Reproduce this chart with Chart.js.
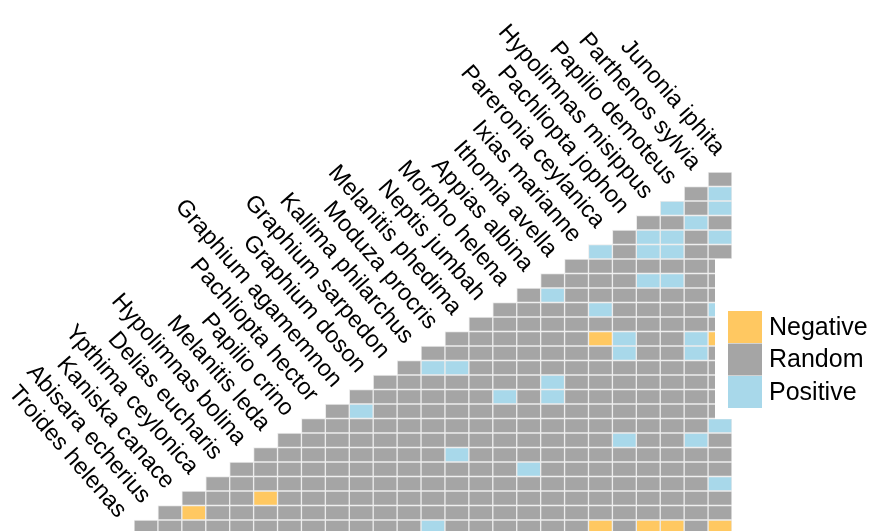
<!DOCTYPE html>
<html>
<head>
<meta charset="utf-8">
<script src="https://cdn.jsdelivr.net/npm/chart.js@4.4.1/dist/chart.umd.min.js"></script>
<style>
  html, body { margin: 0; padding: 0; background: #fff; overflow: hidden; }
</style>
</head>
<body>
<canvas id="coocChart" width="870" height="531"></canvas>
<script>
// species along the diagonal, bottom-left to top-right
const species = [
  'Troides helenas', 'Abisara echerius', 'Kaniska canace', 'Ypthima ceylonica',
  'Delias eucharis', 'Hypolimnas bolina', 'Melanitis leda', 'Papilio crino',
  'Pachliopta hector', 'Graphium agamemnon', 'Graphium doson', 'Graphium sarpedon',
  'Kallima philarchus', 'Moduza procris', 'Melanitis phedima', 'Neptis jumbah',
  'Morpho helena', 'Appias albina', 'Ithomia avella', 'Ixias marianne',
  'Pareronia ceylanica', 'Pachliopta jophon', 'Hypolimnas misippus', 'Papilio demoteus',
  'Parthenos sylvia', 'Junonia iphita'
];
// grid columns
const columns = species.slice(0, 25);

// one string per row, bottom row first; one letter per cell from the diagonal to the right
// N = negative, R = random, P = positive
const rowCodes = [
  'RRRRRRRRRRRRPRRRRRRNRNNRN',
  'RNRRRRRRRRRRRRRRRRRRRRRR',
  'RRRNRRRRRRRRRRRRRRRRRRR',
  'RRRRRRRRRRRRRRRRRRRRRP',
  'RRRRRRRRRRRRPRRRRRRRR',
  'RRRRRRRRPRRRRRRRRRRR',
  'RRRRRRRRRRRRRRPRRPR',
  'RRRRRRRRRRRRRRRRRP',
  'RPRRRRRRRRRRRRRRR',
  'RRRRRRPRPRRRRRRR',
  'RRRRRRRPRRRRRRR',
  'RPPRRRRRRRRRRR',
  'RRRRRRRRPRRPR',
  'RRRRRRNPRRPN',
  'RRRRRRRRRRR',
  'RRRRPRRRRP',
  'RPRRRRRRR',
  'RRRRPPRR',
  'RRRRRRR',
  'PRPPRR',
  'RPPRP',
  'RRPR',
  'PRP',
  'RP',
  'R'
];

const legendLabels = ['Negative', 'Random', 'Positive'];
const legendCodes = ['N', 'R', 'P'];
const codeColors = { N: '#FFC861', R: '#A5A5A5', P: '#A8D8EA' };

// one floating-bar dataset per row
const datasets = rowCodes.map((codes, r) => ({
  label: 'row ' + r,
  data: columns.map((_, c) => (c >= r ? [r, r + 1] : null)),
  backgroundColor: columns.map((_, c) => (c >= r ? codeColors[codes[c - r]] : 'transparent')),
  borderColor: '#ececec',
  borderWidth: 1,
  borderSkipped: false,
  grouped: false,
  barPercentage: 1,
  categoryPercentage: 1
}));

// species names along the staircase
const diagonalLabels = {
  id: 'diagonalLabels',
  afterDatasetsDraw(chart) {
    const { ctx, scales: { x, y } } = chart;
    const colW = x.getPixelForValue(1) - x.getPixelForValue(0);
    ctx.save();
    ctx.font = '23.5px "Liberation Sans", Arial, sans-serif';
    ctx.fillStyle = '#000';
    ctx.textAlign = 'right';
    ctx.textBaseline = 'alphabetic';
    species.forEach((name, k) => {
      const px = x.getPixelForValue(k) - colW / 2 - 17;
      const py = y.getPixelForValue(k + 1) - 1;
      ctx.save();
      ctx.translate(px, py);
      ctx.rotate(49 * Math.PI / 180);
      ctx.fillText(name, 0, 0);
      ctx.restore();
    });
    ctx.restore();
  }
};

// legend box on the right, drawn over the last column
const sideLegend = {
  id: 'sideLegend',
  afterDraw(chart) {
    const { ctx } = chart;
    ctx.save();
    ctx.fillStyle = '#fff';
    ctx.fillRect(715, 259, 155, 160);
    ctx.font = '25px "Liberation Sans", Arial, sans-serif';
    ctx.textBaseline = 'middle';
    ctx.textAlign = 'left';
    legendLabels.forEach((lbl, i) => {
      const top = 311 + i * 32.5;
      ctx.fillStyle = codeColors[legendCodes[i]];
      ctx.fillRect(728, top, 34, 32);
      ctx.fillStyle = '#000';
      ctx.fillText(lbl, 769, top + 17);
    });
    ctx.restore();
  }
};

const ctx = document.getElementById('coocChart').getContext('2d');
new Chart(ctx, {
  type: 'bar',
  data: { labels: columns, datasets },
  options: {
    responsive: false,
    animation: false,
    layout: { padding: { left: 134, right: 138, top: 172, bottom: 0 } },
    plugins: {
      legend: { display: false },
      tooltip: { enabled: false }
    },
    scales: {
      x: { display: false, offset: true },
      y: { display: false, min: 0.24, max: 25 }
    }
  },
  plugins: [diagonalLabels, sideLegend]
});
</script>
</body>
</html>
